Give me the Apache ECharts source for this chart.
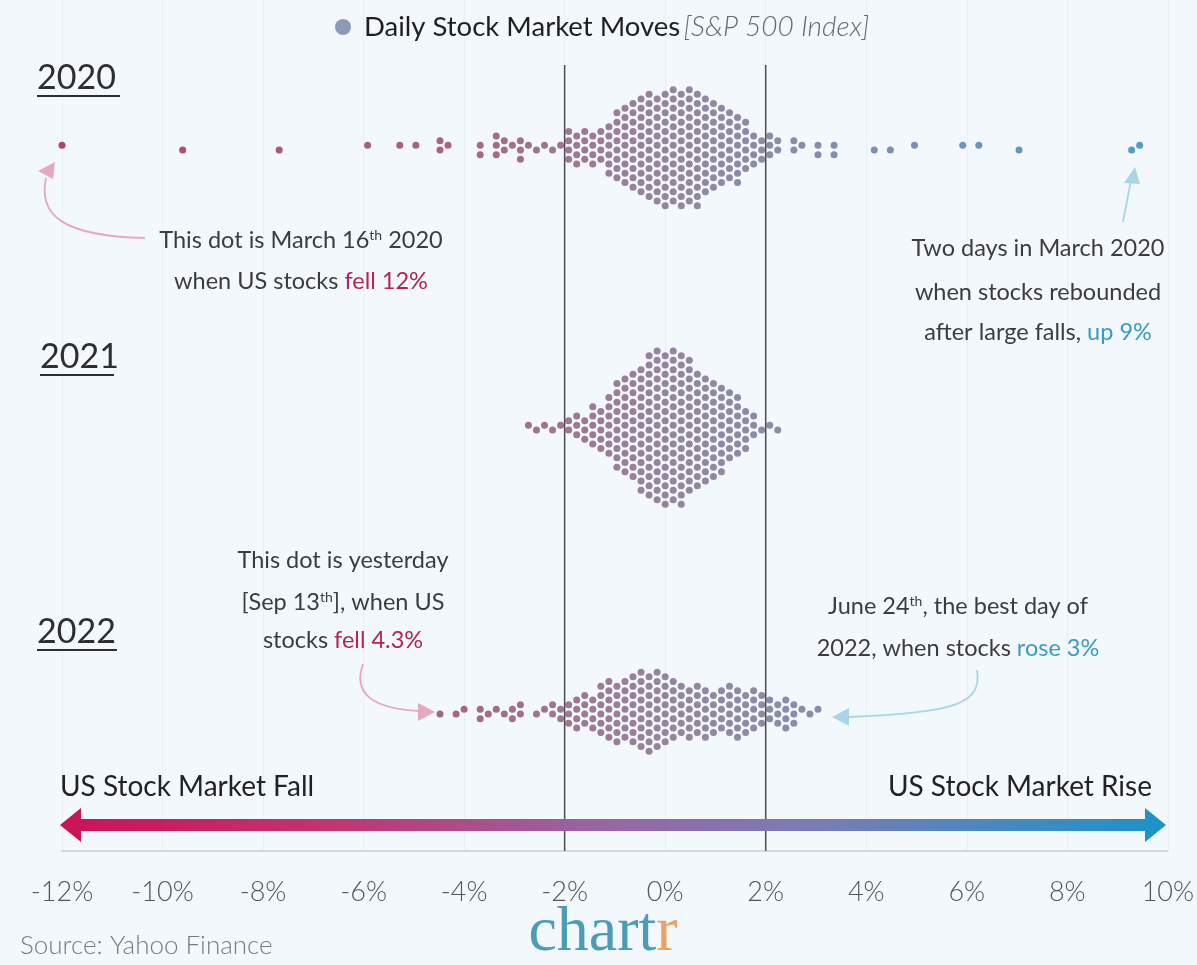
<!DOCTYPE html>
<html>
<head>
<meta charset="utf-8">
<script src="https://cdn.jsdelivr.net/npm/echarts@6/dist/echarts.min.js"></script>
<style>
  html, body { margin: 0; background: #f2f8fb; }
  #chart { width: 1197px; height: 965px; }
</style>
</head>
<body>
<div id="chart"></div>
<script>
// x axis ticks (% daily move)
const tickValues = [-12, -10, -8, -6, -4, -2, 0, 2, 4, 6, 8, 10];

// days are grouped into buckets of BUCKET % ; bucket k is centred on k * BUCKET
const BUCKET = 0.16;

// dense centre of each year: days per bucket, first bucket index given
const firstBucket2020 = -12;
const counts2020 = [4, 4, 4, 4, 4, 6, 8, 9, 10, 11, 12, 12, 13,
                    13, 13, 13, 13, 11, 10, 9, 8, 8, 6, 4, 3, 3];
const tails2020 = [-12.0, -9.6, -7.7, -6.0, -5.25, -4.97, -4.49, -4.49, -4.39,
                   -3.64, -3.64, -3.44, -3.44, -3.44, -3.16, -3.16, -3.0, -2.89, -2.89, -2.82,
                   -2.65, -2.51, -2.45, -2.27, -2.11,
                   2.2, 2.25, 2.55, 2.6, 2.65, 3.0, 3.1, 3.3, 3.35, 4.2, 4.55, 4.9,
                   5.95, 6.2, 7.0, 9.25, 9.4];

const firstBucket2021 = -11;
const counts2021 = [2, 3, 5, 5, 7, 10, 11, 12, 14, 16, 17, 17,
                    17, 17, 15, 13, 12, 11, 10, 8, 7, 5, 3];
const tails2021 = [-2.67, -2.52, -2.34, -2.21, -2.11, -1.99, -1.99, -1.76, 1.93, 2.03, 2.32];

const firstBucket2022 = -12;
const counts2022 = [3, 4, 4, 4, 6, 7, 7, 7, 8, 9, 9, 9, 8, 7, 6,
                    6, 6, 6, 5, 5, 6, 6, 5, 5, 4, 3, 3, 4, 3];
const tails2022 = [-4.41, -4.13, -3.94, -3.7, -3.64, -3.47, -3.32, -3.28, -3.0, -3.0,
                   -2.85, -2.85, -2.51, -2.45, -2.23, -2.21, -2.06, -2.05,
                   2.72, 2.92, 3.02];

const years = ['2020', '2021', '2022'];

const GRID = { left: 62, right: 29, top: 0, bottom: 114 };
const W = 1197, H = 965;
const PLOT_H = H - GRID.top - GRID.bottom;        // y axis runs in pixels
const PX_PER_PCT = (W - GRID.left - GRID.right) / 22;
const ROW_Y = [150, 430, 714];                     // centre line of each swarm
// hexagonal packing: columns one bucket apart, dots stacked with this step
const STEP = 2 * BUCKET * PX_PER_PCT / Math.sqrt(3);

function toBuckets(first, counts, tails) {
    const cols = new Map();
    counts.forEach((n, i) => cols.set(first + i, n));
    tails.forEach((v) => {
        const k = Math.round(v / BUCKET);
        cols.set(k, (cols.get(k) || 0) + 1);
    });
    return cols;
}

// dot plot on a hex lattice, stacked outward from the centre line
function swarm(cols, cy) {
    const out = [];
    cols.forEach((n, k) => {
        const odd = Math.abs(k) % 2 === 1;
        for (let i = 0; i < n; i++) {
            let off;
            if (odd) {
                const r = Math.floor(i / 2) + 0.5;
                off = (i % 2 === 0 ? -r : r) * STEP;
            } else {
                const r = Math.ceil(i / 2);
                off = (i % 2 === 1 ? -r : r) * STEP;
            }
            out.push([+(k * BUCKET).toFixed(2), cy + off]);
        }
    });
    return out;
}

const data2020 = swarm(toBuckets(firstBucket2020, counts2020, tails2020), ROW_Y[0]);
const data2021 = swarm(toBuckets(firstBucket2021, counts2021, tails2021), ROW_Y[1]);
const data2022 = swarm(toBuckets(firstBucket2022, counts2022, tails2022), ROW_Y[2]);

const chart = echarts.init(document.getElementById('chart'));

const FONT = 'Lato, "Noto Sans", sans-serif';
const TXT = '#3c3c3c';
const RED = '#b3245a';
const BLUE = '#3a9cc4';
const PINK_ARROW = '#e7a7bf';
const BLUE_ARROW = '#a9d6e6';
const NOTE_SIZE = 23.5;

const body = { fontSize: NOTE_SIZE, fontFamily: FONT, fill: TXT };
const sup = { fontSize: 14, fontFamily: FONT, fill: TXT, verticalAlign: 'top', padding: [0, 0, 9, 0] };

function note(x, y, text) {
    return {
        type: 'text',
        style: {
            x, y, text, align: 'center', verticalAlign: 'middle',
            font: NOTE_SIZE + 'px ' + FONT, fill: TXT,
            rich: {
                n: body,
                s: sup,
                r: { fontSize: NOTE_SIZE, fontFamily: FONT, fill: RED },
                b: { fontSize: NOTE_SIZE, fontFamily: FONT, fill: BLUE }
            }
        }
    };
}

function yearLabel(text, x, y, w) {
    return [
        { type: 'text', style: { x, y, text, font: '34px ' + FONT, fill: '#2e2e2e', verticalAlign: 'middle' } },
        { type: 'line', shape: { x1: x, y1: y + 18, x2: x + w, y2: y + 18 }, style: { stroke: '#2e2e2e', lineWidth: 2 } }
    ];
}

function arrowHead(points, color) {
    return { type: 'polygon', shape: { points }, style: { fill: color } };
}

chart.setOption({
    backgroundColor: '#f2f8fb',
    animation: false,
    grid: GRID,
    xAxis: {
        type: 'value',
        min: -12,
        max: 10,
        interval: 2,
        axisLine: { show: true, onZero: false, lineStyle: { color: '#c9cfd3', width: 1.5 } },
        axisTick: { show: false },
        axisLabel: {
            margin: 28,
            color: '#555',
            fontSize: 27,
            fontFamily: FONT,
            fontWeight: 300,
            formatter: (v) => (tickValues.includes(v) ? v + '%' : '')
        },
        splitLine: { show: true, lineStyle: { color: 'rgba(120,140,150,0.07)', width: 1 } }
    },
    yAxis: {
        type: 'value',
        min: 0,
        max: PLOT_H,
        inverse: true,
        show: false
    },
    visualMap: {
        show: false,
        type: 'continuous',
        dimension: 0,
        seriesIndex: [0, 1, 2],
        min: -12,
        max: 10,
        inRange: {
            color: ['#a5154b', '#a11f51', '#9d2a57', '#99355d', '#934366', '#8a5676',
                    '#7e6788', '#746e96', '#6474a0', '#4f7aa8', '#3880b1', '#2186b9']
        }
    },
    series: [
        { name: years[0], type: 'scatter', symbolSize: 7, data: data2020 },
        { name: years[1], type: 'scatter', symbolSize: 7, data: data2021 },
        { name: years[2], type: 'scatter', symbolSize: 7, data: data2022 },
        {
            type: 'line', symbol: 'none', silent: true,
            data: [[-2, 65], [-2, PLOT_H]],
            lineStyle: { color: '#4d4d4d', width: 1.5 }
        },
        {
            type: 'line', symbol: 'none', silent: true,
            data: [[2, 65], [2, PLOT_H]],
            lineStyle: { color: '#4d4d4d', width: 1.5 }
        }
    ],
    graphic: [
        // title with legend dot
        { type: 'circle', shape: { cx: 343, cy: 27, r: 8 }, style: { fill: '#8a9bb9' } },
        {
            type: 'text',
            style: {
                x: 364, y: 27, verticalAlign: 'middle',
                text: '{a|Daily Stock Market Moves} {b|[S&P 500 Index]}',
                rich: {
                    a: { fontSize: 27.5, fontFamily: FONT, fill: '#1f1f1f' },
                    b: { fontSize: 28, fontFamily: FONT, fill: '#6a6a6a', fontStyle: 'italic', fontWeight: 300 }
                }
            }
        },
        ...yearLabel(years[0], 37, 78, 83),
        ...yearLabel(years[1], 40, 357, 74),
        ...yearLabel(years[2], 37, 632, 80),

        // 2020 notes
        note(301, 240, '{n|This dot is March 16}{s|th}{n| 2020}'),
        note(301, 281, '{n|when US stocks }{r|fell 12%}'),
        note(1038, 248, '{n|Two days in March 2020}'),
        note(1038, 292, '{n|when stocks rebounded}'),
        note(1038, 332, '{n|after large falls, }{b|up 9%}'),
        {
            type: 'bezierCurve',
            shape: { x1: 145, y1: 238, cpx1: 62, cpy1: 236, cpx2: 38, cpy2: 215, x2: 46, y2: 178 },
            style: { stroke: PINK_ARROW, lineWidth: 1.8, fill: null }
        },
        arrowHead([[55, 162], [38, 171], [53, 179]], PINK_ARROW),
        {
            type: 'line',
            shape: { x1: 1123, y1: 222, x2: 1131, y2: 180 },
            style: { stroke: BLUE_ARROW, lineWidth: 1.8 }
        },
        arrowHead([[1135, 167], [1124, 183], [1140, 184]], BLUE_ARROW),

        // 2022 notes
        note(343, 560, '{n|This dot is yesterday}'),
        note(343, 602, '{n|[Sep 13}{s|th}{n|], when US}'),
        note(343, 640, '{n|stocks }{r|fell 4.3%}'),
        note(958, 606, '{n|June 24}{s|th}{n|, the best day of}'),
        note(958, 648, '{n|2022, when stocks }{b|rose 3%}'),
        {
            type: 'bezierCurve',
            shape: { x1: 363, y1: 664, cpx1: 352, cpy1: 695, cpx2: 375, cpy2: 709, x2: 420, y2: 711 },
            style: { stroke: PINK_ARROW, lineWidth: 1.8, fill: null }
        },
        arrowHead([[435, 712], [418, 703], [418, 721]], PINK_ARROW),
        {
            type: 'bezierCurve',
            shape: { x1: 977, y1: 670, cpx1: 982, cpy1: 703, cpx2: 958, cpy2: 713, x2: 848, y2: 717 },
            style: { stroke: BLUE_ARROW, lineWidth: 1.8, fill: null }
        },
        arrowHead([[832, 717], [849, 708], [849, 726]], BLUE_ARROW),

        // fall / rise scale
        { type: 'text', style: { x: 60, y: 787, text: 'US Stock Market Fall', font: '28px ' + FONT, fill: '#222', verticalAlign: 'middle' } },
        { type: 'text', style: { x: 1152, y: 787, text: 'US Stock Market Rise', font: '28px ' + FONT, fill: '#222', verticalAlign: 'middle', align: 'right' } },
        {
            type: 'polygon',
            shape: {
                points: [[60, 825], [81, 808], [81, 819], [1145, 819], [1145, 808], [1166, 825],
                         [1145, 842], [1145, 831], [81, 831], [81, 842]]
            },
            style: {
                fill: new echarts.graphic.LinearGradient(0, 0, 1, 0, [
                    { offset: 0, color: '#cc1157' },
                    { offset: 0.25, color: '#c03672' },
                    { offset: 0.5, color: '#9667a6' },
                    { offset: 0.68, color: '#7a7cb6' },
                    { offset: 1, color: '#1a94c9' }
                ])
            },
            z: 5
        },

        // footer
        { type: 'text', style: { x: 20, y: 946, text: 'Source: Yahoo Finance', font: '300 26px ' + FONT, fill: '#7a7a7a', verticalAlign: 'middle' } },
        {
            type: 'text',
            style: {
                x: 603, y: 933, align: 'center', verticalAlign: 'middle',
                text: '{c|chart}{r|r}',
                rich: {
                    c: { fontSize: 64, fontFamily: '"Liberation Serif", serif', fill: '#4b9cb8' },
                    r: { fontSize: 64, fontFamily: '"Liberation Serif", serif', fill: '#eaa363' }
                }
            }
        }
    ]
});
</script>
</body>
</html>
